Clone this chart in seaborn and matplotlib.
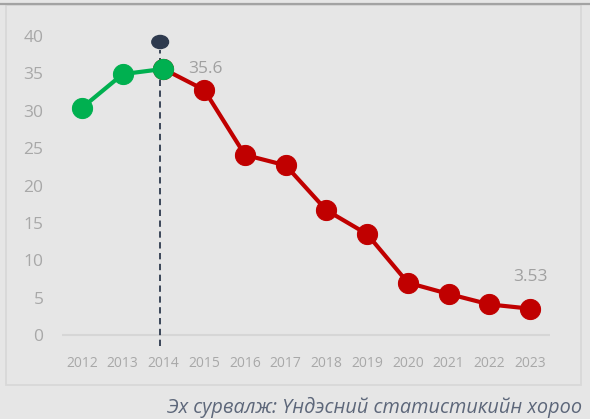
import matplotlib
matplotlib.use("Agg")
import matplotlib.pyplot as plt
from matplotlib.patches import Ellipse, Rectangle
from matplotlib.lines import Line2D
import seaborn as sns
import pandas as pd

years = ["2012", "2013", "2014", "2015", "2016", "2017",
         "2018", "2019", "2020", "2021", "2022", "2023"]
values = [30.4, 34.9, 35.6, 32.8, 24.1, 22.7, 16.7, 13.5, 7.0, 5.5, 4.1, 3.53]
growth_years = ["2012", "2013", "2014"]
decline_years = ["2014", "2015", "2016", "2017", "2018", "2019",
                 "2020", "2021", "2022", "2023"]
peak_year = "2014"
peak_marker_level = 39.2
y_ticks = [0, 5, 10, 15, 20, 25, 30, 35, 40]
source_text = "Эх сурвалж: Үндэсний статистикийн хороо"
title_text = "(тэрбум ам.доллар)"

GREEN = "#00b050"
RED = "#c00000"
NAVY = "#2e3a4e"
BG = "#e6e6e6"
TICK = "#a8a8a8"

sns.set_theme(style="white")
plt.rcParams["font.family"] = ["Open Sans", "DejaVu Sans"]

df = pd.DataFrame({"year": years, "value": values})
df["pos"] = range(len(years))
green_df = df[df["year"].isin(growth_years)]
red_df = df[df["year"].isin(decline_years)]

fig = plt.figure(figsize=(5.9, 4.19), dpi=100, facecolor=BG)
ax = fig.add_axes([0.1044, 0.1647, 0.8285, 0.785])
ax.set_facecolor(BG)

# outer panel frame and the rule along the top
fig.patches.append(Rectangle((6 / 590, 1 - 385 / 419), 575 / 590, 380 / 419,
                             transform=fig.transFigure, fill=False,
                             edgecolor="#d8d8d8", linewidth=1.3, zorder=0))
fig.lines.append(Line2D([0, 1], [1 - 4 / 419, 1 - 4 / 419],
                        transform=fig.transFigure, color="#a3a3a3",
                        linewidth=1.6))
fig.text(8 / 590, 1 + 10 / 419, title_text, ha="left", va="center",
         fontsize=12, color="#7f7f7f")

# zero baseline
ax.axhline(0, color="#d6d6d6", linewidth=1.5, zorder=1)

peak_pos = years.index(peak_year)
guide_x = peak_pos - 0.08
ax.plot([guide_x, guide_x], [-1.4, 38.1], color=NAVY, linewidth=1.3,
        linestyle=(0, (3.5, 2.5)), zorder=2)
ax.add_patch(Ellipse((guide_x, peak_marker_level), 0.41, 1.75,
                     color=NAVY, zorder=5))

sns.lineplot(data=red_df, x="pos", y="value", ax=ax, color=RED,
             linewidth=3, marker="o", markersize=14.5,
             markeredgecolor=RED, zorder=3)
sns.lineplot(data=green_df, x="pos", y="value", ax=ax, color=GREEN,
             linewidth=3, marker="o", markersize=14.5,
             markeredgecolor=GREEN, zorder=4)

peak_val = values[peak_pos]
ax.annotate(f"{peak_val:g}", (peak_pos, peak_val), xytext=(30, 0),
            textcoords="offset points", ha="center", va="center",
            fontsize=12.5, color="#a0a0a0")
last_pos = len(years) - 1
ax.annotate(f"{values[-1]:.2f}", (last_pos, values[-1]), xytext=(0, 23),
            textcoords="offset points", ha="center", va="center",
            fontsize=12.5, color="#a0a0a0")

ax.set_xlim(-0.5, len(years) - 0.5)
ax.set_ylim(-2, 42)
ax.set_xticks(range(len(years)))
ax.set_xticklabels(years)
ax.set_yticks(y_ticks)
ax.set_yticklabels([str(t) for t in y_ticks])
ax.tick_params(axis="x", labelsize=10, labelcolor=TICK, length=0, pad=4)
ax.tick_params(axis="y", labelsize=12.5, labelcolor=TICK, length=0, pad=13)
ax.set_xlabel("")
ax.set_ylabel("")
for s in ax.spines.values():
    s.set_visible(False)
ax.grid(False)

fig.text(582 / 590, 1 - 407 / 419, source_text, ha="right", va="center",
         fontsize=14.3, style="italic", color="#5d677a")

fig.savefig("out.png", dpi=100, facecolor=BG)
